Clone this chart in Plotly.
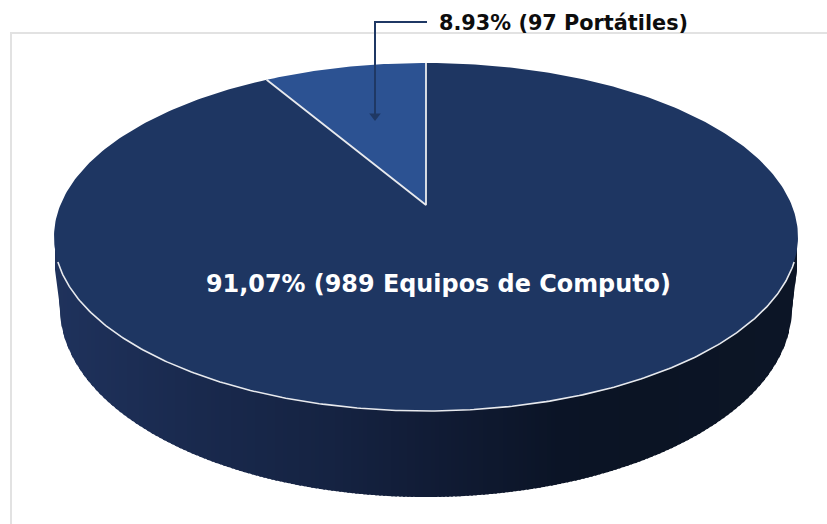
import numpy as np
import plotly.graph_objects as go

categories = ["Equipos de Computo", "Portátiles"]
counts = [989, 97]
labels = ["91,07% (989 Equipos de Computo)", "8.93% (97 Portátiles)"]
side_stops_x = [55, 200, 330, 426, 560, 640, 795]
side_stops_color = [(31, 50, 92), (25, 41, 77), (21, 35, 66), (17, 28, 54), (11, 20, 38), (11, 20, 36), (12, 21, 38)]

W, H = 827, 524
CX, CY, RX, RY = 426.0, 237.0, 372.0, 174.0
AX, AY = 426.0, 205.0
BRX, BCY, BRY = 366.0, 308.0, 189.0
EDGE_Y = 262.0
FORESHORTEN = 0.947


def top_point(t):
    return CX - RX * np.sin(t), CY - RY * np.cos(t)


def ray_param(share):
    a = 2 * np.pi * share
    dx, dy = -np.sin(a) * RX * FORESHORTEN, -np.cos(a) * RY
    ox, oy = (AX - CX) / RX, (AY - CY) / RY
    ux, uy = dx / RX, dy / RY
    A, B, C = ux**2 + uy**2, 2 * (ox * ux + oy * uy), ox**2 + oy**2 - 1
    s = (-B + np.sqrt(B**2 - 4 * A * C)) / (2 * A)
    px, py = ox + s * ux, oy + s * uy
    return np.arctan2(-px, -py)


def top_y_at(x):
    return CY + RY * np.sqrt(np.clip(1 - ((x - CX) / RX) ** 2, 0, 1))


def bottom_y_at(x):
    inner = np.abs(x - CX) <= BRX
    y = np.where(inner, BCY + BRY * np.sqrt(np.clip(1 - ((x - CX) / BRX) ** 2, 0, 1)), EDGE_Y)
    t = np.clip((RX - np.abs(x - CX)) / (RX - BRX), 0, 1)
    return np.where(inner, y, EDGE_Y + (BCY - EDGE_Y) * t)


fig = go.Figure()

# side wall, vertical gradient strips painted left to right, each overlapping the next
edges = np.unique(np.concatenate([np.arange(55, 797, 4.0), [CX - BRX, CX + BRX, 797.0]]))
for x0, x1 in zip(edges[:-1], edges[1:]):
    x_end = min(x1 + 2, 797.0)
    xs = np.linspace(x0, x_end, 4)
    xm = (x0 + x1) / 2
    c = [np.interp(xm, side_stops_x, [s[i] for s in side_stops_color]) for i in range(3)]
    col = f"rgb({c[0]:.0f},{c[1]:.0f},{c[2]:.0f})"
    fig.add_trace(go.Scatter(
        x=np.r_[xs, xs[::-1]], y=np.r_[top_y_at(xs) - 3, bottom_y_at(xs[::-1])],
        mode="lines", fill="toself", fillcolor=col, line=dict(width=0),
        hoverinfo="skip"))

# top faces
share = counts[1] / sum(counts)
t_end = ray_param(share)
ts_small = np.linspace(0, t_end, 40)
ts_big = np.linspace(t_end, 2 * np.pi, 400)
for ts, col in ((ts_big, "#1e3662"), (ts_small, "#2c5292")):
    ex, ey = top_point(ts)
    fig.add_trace(go.Scatter(
        x=np.r_[AX, ex, AX], y=np.r_[AY, ey, AY], mode="lines", fill="toself",
        fillcolor=col, line=dict(width=0), hoverinfo="skip"))

# light outline: the two radii and the front rim only
rim_limit = np.arccos((CY - EDGE_Y) / RY)
rim_ts = np.linspace(rim_limit, 2 * np.pi - rim_limit, 300)
rx_pts, ry_pts = top_point(rim_ts)
fig.add_trace(go.Scatter(x=rx_pts, y=ry_pts, mode="lines",
                         line=dict(color="#e8eaee", width=1.6), hoverinfo="skip"))
end_x, end_y = top_point(t_end)
start_x, start_y = top_point(0.0)
fig.add_trace(go.Scatter(x=[end_x, AX, start_x], y=[end_y, AY, start_y], mode="lines",
                         line=dict(color="#e8eaee", width=1.8), hoverinfo="skip"))

# leader with arrowhead
fig.add_trace(go.Scatter(
    x=[427, 375, 375], y=[22, 22, 116], mode="lines",
    line=dict(color="#1f3864", width=2), hoverinfo="skip"))
fig.add_trace(go.Scatter(
    x=[375], y=[116], mode="markers",
    marker=dict(symbol="triangle-down", size=10, color="#1f3864"), hoverinfo="skip"))

fig.add_annotation(x=437, y=23, xanchor="left", yanchor="middle", text=f"<b>{labels[1]}</b>",
                   showarrow=False, font=dict(family="DejaVu Sans", size=20.8, color="#0d0d0d"))
fig.add_annotation(x=204, y=284, xanchor="left", yanchor="middle", text=f"<b>{labels[0]}</b>",
                   showarrow=False, font=dict(family="DejaVu Sans", size=23.9, color="#ffffff"))

frame = dict(color="#e2e2e2", width=2)
fig.add_shape(type="line", x0=10, x1=W, y0=33, y1=33, line=frame, layer="below")
fig.add_shape(type="line", x0=11, x1=11, y0=33, y1=H, line=frame, layer="below")

fig.update_layout(
    width=W, height=H, margin=dict(l=0, r=0, t=0, b=0), showlegend=False,
    paper_bgcolor="white", plot_bgcolor="white", hovermode=False,
    xaxis=dict(range=[0, W], visible=False, fixedrange=True),
    yaxis=dict(range=[H, 0], visible=False, fixedrange=True))

fig.write_html("out.html", config={"displayModeBar": False},
               post_script="document.body.style.margin='0';")
